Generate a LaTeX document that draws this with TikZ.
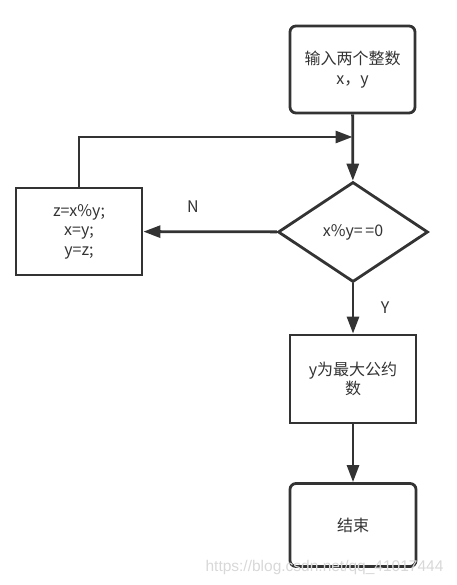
\documentclass[tikz,border=0pt]{standalone}
\usepackage{fontspec}
\setmainfont{Noto Sans CJK SC}
\newfontfamily\wmfont{Liberation Sans}
\usetikzlibrary{arrows.meta,shapes.geometric}
\definecolor{ln}{HTML}{333333}
\definecolor{wmc}{HTML}{D8D8D8}
\begin{document}
\begin{tikzpicture}[x=1pt,y=-1pt,
  box/.style={draw=ln, line width=2.8pt, minimum width=125pt, minimum height=87pt,
    align=center, font=\fontsize{16}{19.5}\selectfont, text=ln, inner sep=0pt},
  rbox/.style={box, rounded corners=6pt},
  dec/.style={draw=ln, line width=2.8pt, shape=diamond, minimum width=150pt, minimum height=100pt,
    inner sep=0pt, font=\fontsize{16}{19.5}\selectfont, text=ln},
  arr/.style={draw=ln, line width=2.8pt, -{Triangle[length=17pt,width=12pt]}},
  lbl/.style={font=\fontsize{16}{19}\selectfont, text=ln}]
\useasboundingbox (0,0) rectangle (456,585);
\node[rbox] (start) at (352.5,69.5) {输入两个整数\\x，y};
\node[dec] (cond) at (353,232) {x\%y=\,=0};
\node[box, minimum width=126pt] (upd) at (79,231.5) {z=x\%y;\\x=y;\\y=z;};
\node[box, minimum width=126pt, minimum height=88pt] (res) at (353,379) {y为最大公约\\数};
\node[rbox, minimum width=126pt, minimum height=83pt] (end) at (353,525) {结束};
\coordinate (join) at (352.5,137);
\draw[arr] (start) -- (cond);
\draw[arr] (cond) -- (upd);
\draw[arr] (upd.north) |- (join);
\draw[arr] (cond) -- (res);
\draw[arr] (res) -- (end);
\node[lbl] (n) at (193,207) {N};
\node[lbl] (y) at (385,308) {Y};
\node[font=\wmfont\fontsize{15.5}{17}\selectfont, text=wmc, inner sep=0pt] (wm) at (324.5,567) {https://blog.csdn.net/qq\_41017444};
\end{tikzpicture}
\end{document}
